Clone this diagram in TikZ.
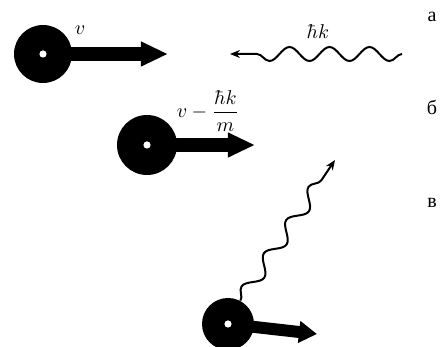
\documentclass[tikz,border=0pt]{standalone}
\usepackage{amsmath}
\usepackage{fontspec}
\newfontfamily\cyrfont{Liberation Serif}
\usetikzlibrary{arrows.meta,decorations.pathmorphing}

\begin{document}
\begin{tikzpicture}[x=0.5pt,y=-0.5pt,>={Stealth[length=5pt,width=4pt]},
  atom/.style={circle,fill,inner sep=0pt,minimum size=29pt},
  velocity/.style={line width=7pt,-{Triangle[length=13.5pt,width=11.5pt]},shorten <=10pt},
  photon/.style={line width=1pt,->,decorate,
    decoration={snake,segment length=20pt,amplitude=3.5pt,post length=6pt}}]

\useasboundingbox (0,0) rectangle (441,347);

\node [atom] (a) at (43,54) {};
\node [atom,minimum size=30pt] (b) at (147,145) {};
\node [atom,minimum size=26pt] (c) at (228,324) {};

\coordinate (va) at (168,54);
\coordinate (vb) at (255,145);
\coordinate (vc) at (317,334);
\coordinate (pa) at (402,54);
\coordinate (pb) at (230,54);
\coordinate (pc) at (335,160);

\node (la) at (80,30) {$v$};
\node (lb) at (208,111) {$v-\dfrac{\hbar k}{m}$};
\node (lk) at (318,32) {$\hbar k$};

\node [font=\cyrfont] (sa) at (432,17) {а};
\node [font=\cyrfont] (sb) at (432,107) {б};
\node [font=\cyrfont] (sc) at (432,203) {в};

\draw [velocity] (a.center) -- (va);
\draw [velocity] (b.center) -- (vb);
\draw [velocity,line width=6pt,-{Triangle[length=9pt,width=10.5pt]}] (c.center) -- (vc);

\fill [white] (a.center) circle (1.8pt);
\fill [white] (b.center) circle (1.8pt);
\fill [white] (c.center) circle (1.8pt);

\draw [photon] (pa) -- (pb);
\draw [photon] (c.62) -- (pc);

\end{tikzpicture}
\end{document}
